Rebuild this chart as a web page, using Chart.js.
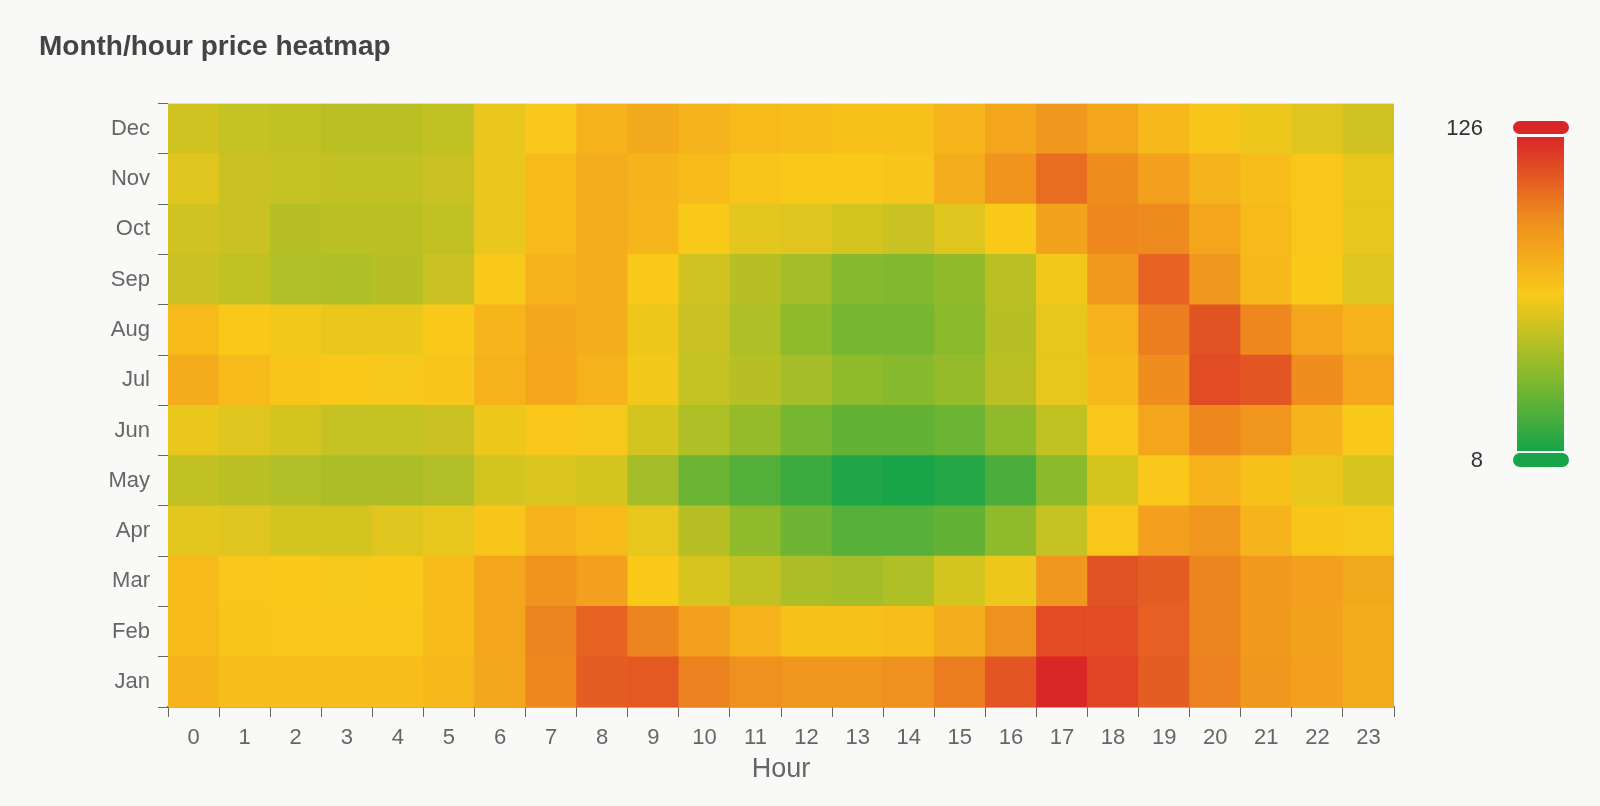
<!DOCTYPE html>
<html>
<head>
<meta charset="utf-8">
<script src="https://cdn.jsdelivr.net/npm/chart.js@4.4.0/dist/chart.umd.min.js"></script>
<style>
  html, body { margin: 0; padding: 0; background: #f9f9f8; }
  #wrap { width: 1600px; height: 806px; }
</style>
</head>
<body>
<div id="wrap"><canvas id="chart" width="1600" height="806"></canvas></div>
<script>
const hours = ['0','1','2','3','4','5','6','7','8','9','10','11','12','13','14','15','16','17','18','19','20','21','22','23'];
const months = ['Jan','Feb','Mar','Apr','May','Jun','Jul','Aug','Sep','Oct','Nov','Dec'];

// price per hour, one array per month
const jan = [77,72,72,72,72,75,83,97,110,111,99,93,91,91,93,100,112,126,117,110,99,90,86,81];
const feb = [74,69,68,68,68,74,84,98,108,98,86,78,71,71,72,80,93,115,115,109,98,89,85,81];
const mar = [74,68,67,66,67,73,84,92,86,67,58,52,46,44,47,57,64,90,113,110,98,89,86,82];
const apr = [61,60,57,57,60,62,69,78,74,62,49,38,30,24,24,27,38,53,68,86,91,77,69,66];
const may = [52,50,48,46,46,48,57,59,57,44,29,23,17,10,8,11,21,37,57,68,78,71,63,58];
const jun = [63,60,57,53,53,54,64,68,66,57,47,40,32,27,27,29,38,52,68,84,97,91,77,67];
const jul = [81,74,69,67,66,69,78,84,78,65,53,49,44,38,36,40,50,62,75,95,115,112,95,84];
const aug = [74,67,65,63,63,67,76,83,80,64,54,47,38,32,32,37,49,62,78,100,113,97,84,78];
const sep = [54,52,48,47,49,54,67,78,80,67,56,49,44,36,35,39,50,65,89,108,90,75,67,60];
const oct = [56,54,49,50,50,52,63,74,80,76,67,61,60,57,54,60,67,85,97,96,84,74,68,62];
const nov = [60,54,53,52,52,54,63,74,80,77,74,69,67,67,69,80,92,105,95,86,77,72,68,62];
const dec = [56,53,52,50,50,52,63,68,78,82,77,74,72,71,71,76,84,90,84,75,69,64,60,56];

const rows = [jan, feb, mar, apr, may, jun, jul, aug, sep, oct, nov, dec];
const priceMin = 8;
const priceMax = 126;

const colorStops = [
  [0, [24, 164, 73]],
  [0.25, [140, 186, 44]],
  [0.5, [249, 201, 26]],
  [0.75, [238, 138, 30]],
  [1, [217, 39, 39]]
];

function colorFor(v) {
  const t = Math.max(0, Math.min(1, (v - priceMin) / (priceMax - priceMin)));
  for (let i = 1; i < colorStops.length; i++) {
    const [t1, c1] = colorStops[i];
    const [t0, c0] = colorStops[i - 1];
    if (t <= t1) {
      const f = (t - t0) / (t1 - t0);
      const c = c0.map((a, k) => Math.round(a + (c1[k] - a) * f));
      return `rgb(${c[0]},${c[1]},${c[2]})`;
    }
  }
  return 'rgb(217,39,39)';
}

const visualMap = {
  id: 'visualMap',
  afterDraw(chart) {
    const ctx = chart.ctx;
    const x = 1517, w = 47, top = 137, bottom = 451;
    const g = ctx.createLinearGradient(0, bottom, 0, top);
    colorStops.forEach(([t, c]) => g.addColorStop(t, `rgb(${c[0]},${c[1]},${c[2]})`));
    ctx.save();
    ctx.fillStyle = g;
    ctx.fillRect(x, top, w, bottom - top);

    const handle = (y, h, color) => {
      ctx.beginPath();
      ctx.roundRect(1513, y, 56, h, h / 2);
      ctx.fillStyle = color;
      ctx.fill();
    };
    handle(121, 13, colorFor(priceMax));
    handle(453, 14, colorFor(priceMin));

    ctx.fillStyle = '#333';
    ctx.font = '22px "Liberation Sans", Arial, sans-serif';
    ctx.textAlign = 'right';
    ctx.textBaseline = 'middle';
    ctx.fillText(String(priceMax), 1483, 129);
    ctx.fillText(String(priceMin), 1483, 461);
    ctx.restore();
  }
};

Chart.defaults.font.family = '"Liberation Sans", Arial, sans-serif';

const datasets = rows.map((vals, i) => ({
  label: months[i],
  data: vals.map(() => 1),
  backgroundColor: vals.map(colorFor),
  borderWidth: 0,
  barPercentage: 1,
  categoryPercentage: 1,
  yAxisID: 'y'
}));

new Chart(document.getElementById('chart'), {
  type: 'bar',
  data: { labels: hours, datasets },
  plugins: [visualMap],
  options: {
    responsive: false,
    animation: false,
    layout: { padding: { left: 39, right: 206, top: 0, bottom: 20 } },
    plugins: {
      legend: { display: false },
      tooltip: { enabled: false },
      title: {
        display: true,
        text: 'Month/hour price heatmap',
        align: 'start',
        color: '#444',
        font: { size: 28, weight: 'bold' },
        padding: { top: 30, bottom: 40 }
      }
    },
    scales: {
      x: {
        stacked: true,
        offset: true,
        grid: { offset: true, drawOnChartArea: false, tickLength: 10, color: '#666' },
        border: { display: true, color: '#666', width: 1.5 },
        ticks: { color: '#666', font: { size: 22 }, padding: 8, autoSkip: false, maxRotation: 0 },
        title: { display: true, text: 'Hour', color: '#666', font: { size: 27 }, padding: { top: 0, bottom: 0 } },
        afterFit(scale) { scale.height = 79; }
      },
      y: {
        stacked: true,
        min: 0,
        max: 12,
        display: false
      },
      yLab: {
        type: 'category',
        position: 'left',
        labels: months.slice().reverse(),
        offset: true,
        grid: { offset: true, drawOnChartArea: false, tickLength: 10, color: '#666' },
        border: { display: false },
        ticks: { color: '#666', font: { size: 22 }, padding: 8 },
        afterFit(scale) { scale.width = 129; }
      }
    }
  }
});
</script>
</body>
</html>
